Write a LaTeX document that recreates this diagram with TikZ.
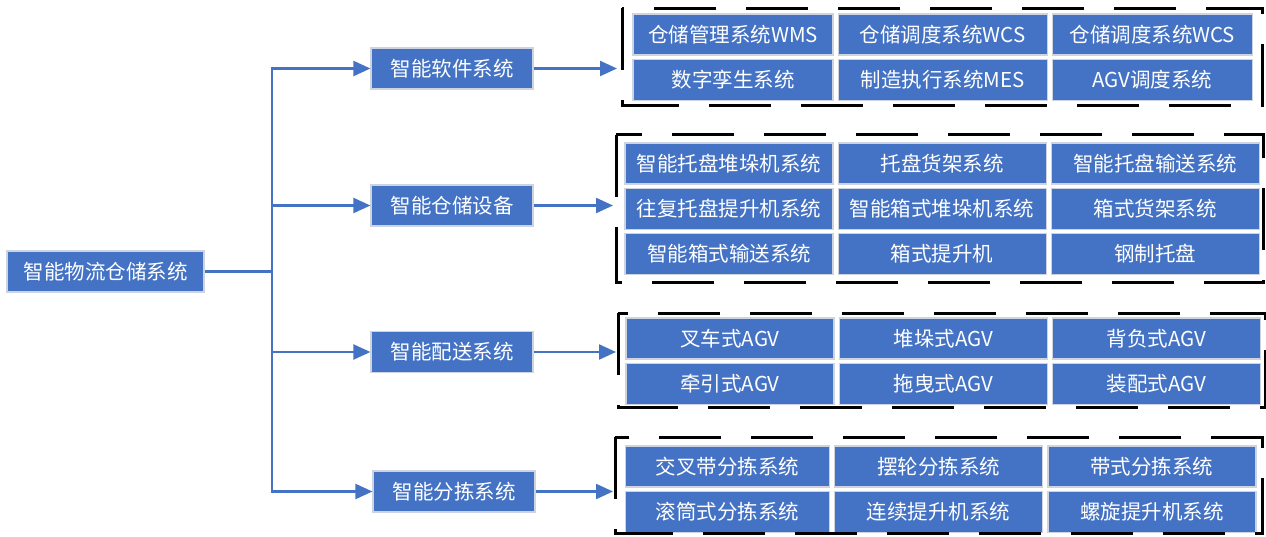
\documentclass[tikz,border=0pt]{standalone}
\usepackage{fontspec}
\newfontfamily\cjk{Noto Sans CJK SC}
\usepackage{tikz}
\usetikzlibrary{positioning}
\usetikzlibrary{arrows.meta}
\definecolor{officeblue}{RGB}{68,114,196}
\definecolor{cellline}{RGB}{205,212,224}

\begin{document}
\begin{tikzpicture}[x=1pt, y=-1pt,
        box/.style={draw=cellline, line width=1.2pt, fill=officeblue, text=white,
          font=\cjk\fontsize{20.5}{23}\selectfont, inner sep=0pt, minimum height=41pt},
        cell/.style={box, minimum width=208pt},
        conn/.style={draw=officeblue, line width=2.2pt},
        arr/.style={conn, -{Triangle[length=17pt, width=15pt]}},
        frame/.style={draw=black, line width=3pt, dash pattern=on 62pt off 30pt}]
    \useasboundingbox (0,0) rectangle (1266,537);
    % left and middle boxes
    \node[box, minimum width=197pt] (root) at (105.5,271.5) {智能物流仓储系统};
    \node[box, minimum width=162pt] (soft) at (452,68.5) {智能软件系统};
    \node[box, minimum width=162pt] (store) at (452,205.5) {智能仓储设备};
    \node[box, minimum width=162pt] (deliver) at (452,352) {智能配送系统};
    \node[box, minimum width=162pt] (sort) at (454,491.5) {智能分拣系统};
    \coordinate (trunk) at (272,271.5);
    \draw[conn] (root) -- (trunk);
    \draw[arr] (trunk) |- (soft);
    \draw[arr] (trunk) |- (store);
    \draw[arr] (trunk) |- (deliver);
    \draw[arr] (trunk) |- (sort);

    % software
    \node[cell, minimum width=200pt] (s11) at (733,34.5) {仓储管理系统WMS};
    \node[cell, minimum width=209pt, right=4pt of s11] (s12) {仓储调度系统WCS};
    \node[cell, minimum width=200pt, right=4pt of s12] (s13) {仓储调度系统WCS};
    \node[cell, minimum width=200pt, below=3pt of s11] (s21) {数字孪生系统};
    \node[cell, minimum width=209pt, right=4pt of s21] (s22) {制造执行系统MES};
    \node[cell, minimum width=200pt, right=4pt of s22] (s23) {AGV调度系统};
    \coordinate (f1a) at (622,8.5);
    \coordinate (f1b) at (1262,105.5);
    \draw[frame] (f1a) |- (f1b) |- (f1a);
    \draw[arr, shorten >=5pt] (soft) -- (soft -| f1a);

    % storage equipment
    \node[cell] (e11) at (729,163.5) {智能托盘堆垛机系统};
    \node[cell, right=4pt of e11] (e12) {托盘货架系统};
    \node[cell, right=4pt of e12] (e13) {智能托盘输送系统};
    \node[cell, below=3pt of e11] (e21) {往复托盘提升机系统};
    \node[cell, right=4pt of e21] (e22) {智能箱式堆垛机系统};
    \node[cell, right=4pt of e22] (e23) {箱式货架系统};
    \node[cell, below=3pt of e21] (e31) {智能箱式输送系统};
    \node[cell, right=4pt of e31] (e32) {箱式提升机};
    \node[cell, right=4pt of e32] (e33) {钢制托盘};
    \coordinate (f2a) at (616,135);
    \coordinate (f2b) at (1263,283);
    \draw[frame] (f2a) |- (f2b) |- (f2a);
    \draw[arr, shorten >=3pt] (store) -- (store -| f2a);

    % delivery
    \node[cell] (d11) at (730,338.5) {叉车式AGV};
    \node[cell, right=4pt of d11] (d12) {堆垛式AGV};
    \node[cell, right=4pt of d12] (d13) {背负式AGV};
    \node[cell, below=3pt of d11] (d21) {牵引式AGV};
    \node[cell, right=4pt of d21] (d22) {拖曳式AGV};
    \node[cell, right=4pt of d22] (d23) {装配式AGV};
    \coordinate (f3a) at (618,313);
    \coordinate (f3b) at (1265,407);
    \draw[frame] (f3a) |- (f3b) |- (f3a);
    \draw[arr, shorten >=2pt] (deliver) -- (deliver -| f3a);

    % sorting
    \node[cell, minimum width=204pt] (p11) at (727.5,466.5) {交叉带分拣系统};
    \node[cell, right=4pt of p11] (p12) {摆轮分拣系统};
    \node[cell, right=4pt of p12] (p13) {带式分拣系统};
    \node[cell, minimum width=204pt, below=3pt of p11] (p21) {滚筒式分拣系统};
    \node[cell, right=4pt of p21] (p22) {连续提升机系统};
    \node[cell, right=4pt of p22] (p23) {螺旋提升机系统};
    \coordinate (f4a) at (615,437);
    \coordinate (f4b) at (1262,533);
    \draw[frame] (f4a) |- (f4b) |- (f4a);
    \draw[arr, shorten >=2pt] (sort) -- (sort -| f4a);
\end{tikzpicture}
\end{document}
